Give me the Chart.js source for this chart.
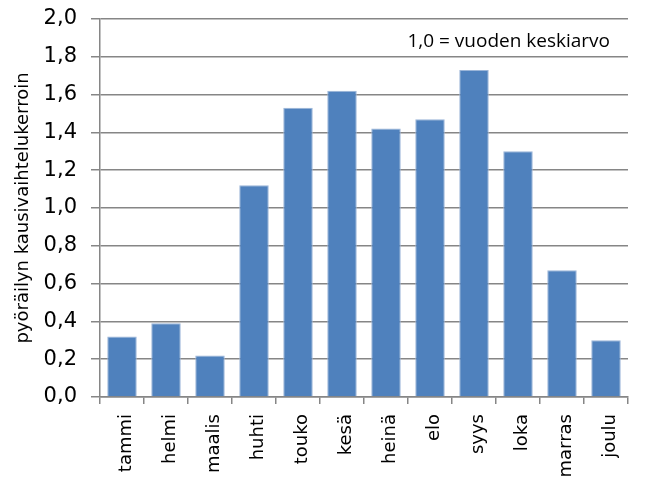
<!DOCTYPE html>
<html><head><meta charset="utf-8">
<script src="https://cdn.jsdelivr.net/npm/chart.js@4/dist/chart.umd.min.js"></script>
<style>html,body{margin:0;padding:0;background:#fff}#wrap{width:648px;height:477px}</style>
</head><body><div id="wrap"><canvas id="c" width="648" height="477"></canvas></div>
<script>
const categories = ["tammi","helmi","maalis","huhti","touko","kesä","heinä","elo","syys","loka","marras","joulu"];
const values = [0.32,0.39,0.22,1.12,1.53,1.62,1.42,1.47,1.73,1.30,0.67,0.30];
const yTitle = "pyöräilyn kausivaihtelukerroin";
const note = "1,0 = vuoden keskiarvo";

const notePlugin = {
  id: 'note',
  afterDraw(chart) {
    const ctx = chart.ctx;
    ctx.save();
    ctx.font = '19px "Open Sans"';
    ctx.fillStyle = '#000';
    ctx.textAlign = 'right';
    ctx.textBaseline = 'middle';
    ctx.fillText(note, chart.chartArea.right - 18, chart.chartArea.top + 23);
    ctx.restore();
  }
};

new Chart(document.getElementById('c'), {
  type: 'bar',
  data: { labels: categories, datasets: [{ data: values, backgroundColor: '#4F81BD', borderColor: '#9bb5d8', borderWidth: 1, categoryPercentage: 1.0, barPercentage: 0.67 }] },
  options: {
    responsive: false, animation: false,
    layout: { padding: { top: 19, right: 20, left: 0, bottom: 0 } },
    plugins: { legend: { display: false }, tooltip: { enabled: false } },
    scales: {
      x: {
        grid: { drawOnChartArea: false, drawTicks: true, tickLength: 7, color: '#868686', lineWidth: 1.5 },
        border: { color: '#868686', width: 1.5 },
        ticks: { minRotation: 90, maxRotation: 90, color: '#000', padding: 10, labelOffset: 4, font: { family: '"DejaVu Sans"', size: 18 } },
        afterFit(s) { s.height = 80; s.paddingLeft = 0; s.paddingRight = 0; }
      },
      y: {
        min: 0, max: 2,
        grid: { color: '#868686', lineWidth: 1.5, tickLength: 9 },
        border: { color: '#868686', width: 1.5 },
        ticks: { stepSize: 0.2, color: '#000', padding: 14, font: { family: '"DejaVu Sans"', size: 21 },
          callback: v => v.toFixed(1).replace('.', ',') },
        title: { display: true, text: yTitle, color: '#000', padding: { top: 13, bottom: 0 }, font: { family: '"DejaVu Sans"', size: 18 } },
        afterFit(s) { s.width = 100; s.paddingTop = 0; s.paddingBottom = 0; }
      }
    }
  },
  plugins: [notePlugin]
});
</script></body></html>
